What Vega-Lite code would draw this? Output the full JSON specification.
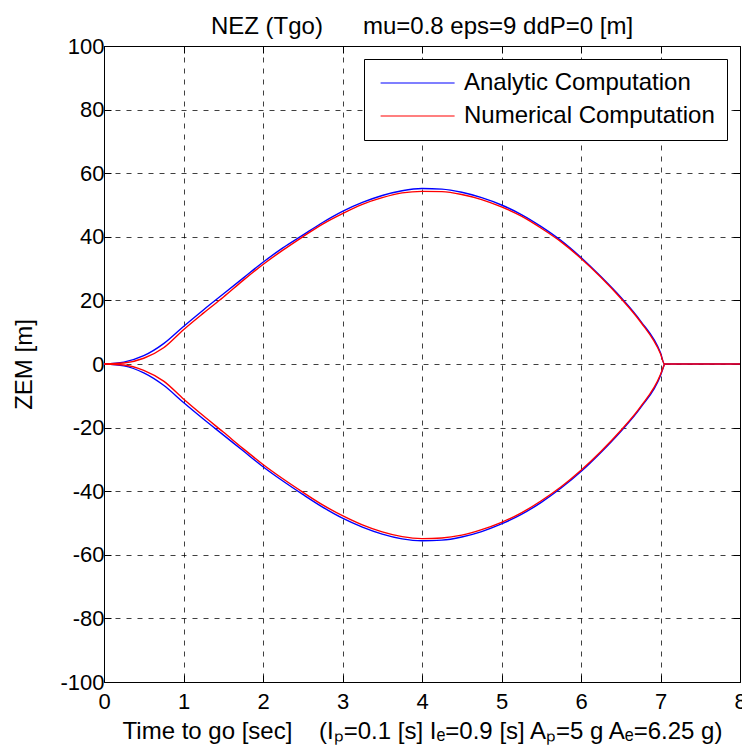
{
  "$schema": "https://vega.github.io/schema/vega-lite/v6.json",
  "width": 636,
  "height": 636,
  "autosize": {"type": "none"},
  "padding": {"left": 104, "top": 46, "right": 2, "bottom": 70},
  "background": "white",
  "config": {
    "font": "Liberation Sans",
    "view": {"stroke": "black", "strokeWidth": 1},
    "axis": {
      "grid": true,
      "gridColor": "#000000",
      "gridDash": [5, 6],
      "gridOpacity": 0.75,
      "gridWidth": 1,
      "domain": false,
      "tickSize": -7,
      "tickColor": "black",
      "labelColor": "black",
      "labelFontSize": 22,
      "titleColor": "black",
      "titleFontSize": 24,
      "titleFontWeight": "normal",
      "labelFlush": false,
      "labelOverlap": false,
      "labelExpr": "'' + datum.value"
    }
  },
  "title": {
    "text": "NEZ (Tgo)\u00a0\u00a0\u00a0\u00a0\u00a0\u00a0mu=0.8 eps=9 ddP=0 [m]",
    "fontSize": 24,
    "fontWeight": "normal",
    "anchor": "middle",
    "color": "black",
    "offset": -4
  },
  "datasets": {
    "curves": [
      {"s": "Analytic Computation", "b": "u", "t": 0, "v": 0},
      {"s": "Analytic Computation", "b": "u", "t": 0.25, "v": 0.6},
      {"s": "Analytic Computation", "b": "u", "t": 0.5, "v": 2.6},
      {"s": "Analytic Computation", "b": "u", "t": 0.75, "v": 6.4},
      {"s": "Analytic Computation", "b": "u", "t": 1, "v": 11.8},
      {"s": "Analytic Computation", "b": "u", "t": 1.25, "v": 17},
      {"s": "Analytic Computation", "b": "u", "t": 1.5, "v": 22},
      {"s": "Analytic Computation", "b": "u", "t": 1.75, "v": 27},
      {"s": "Analytic Computation", "b": "u", "t": 2, "v": 32},
      {"s": "Analytic Computation", "b": "u", "t": 2.25, "v": 36.5},
      {"s": "Analytic Computation", "b": "u", "t": 2.5, "v": 40.5},
      {"s": "Analytic Computation", "b": "u", "t": 2.75, "v": 44.5},
      {"s": "Analytic Computation", "b": "u", "t": 3, "v": 48},
      {"s": "Analytic Computation", "b": "u", "t": 3.25, "v": 50.8},
      {"s": "Analytic Computation", "b": "u", "t": 3.5, "v": 53},
      {"s": "Analytic Computation", "b": "u", "t": 3.75, "v": 54.5},
      {"s": "Analytic Computation", "b": "u", "t": 4, "v": 55.2},
      {"s": "Analytic Computation", "b": "u", "t": 4.25, "v": 55},
      {"s": "Analytic Computation", "b": "u", "t": 4.5, "v": 54},
      {"s": "Analytic Computation", "b": "u", "t": 4.75, "v": 52.3},
      {"s": "Analytic Computation", "b": "u", "t": 5, "v": 50},
      {"s": "Analytic Computation", "b": "u", "t": 5.25, "v": 47},
      {"s": "Analytic Computation", "b": "u", "t": 5.5, "v": 43.2},
      {"s": "Analytic Computation", "b": "u", "t": 5.75, "v": 38.8},
      {"s": "Analytic Computation", "b": "u", "t": 6, "v": 33.5},
      {"s": "Analytic Computation", "b": "u", "t": 6.25, "v": 27.5},
      {"s": "Analytic Computation", "b": "u", "t": 6.5, "v": 21},
      {"s": "Analytic Computation", "b": "u", "t": 6.75, "v": 13.5},
      {"s": "Analytic Computation", "b": "u", "t": 7, "v": 3.5},
      {"s": "Analytic Computation", "b": "u", "t": 7.05, "v": 0},
      {"s": "Analytic Computation", "b": "u", "t": 8, "v": 0},
      {"s": "Analytic Computation", "b": "l", "t": 0, "v": 0},
      {"s": "Analytic Computation", "b": "l", "t": 0.25, "v": -0.6},
      {"s": "Analytic Computation", "b": "l", "t": 0.5, "v": -2.8},
      {"s": "Analytic Computation", "b": "l", "t": 0.75, "v": -6.7},
      {"s": "Analytic Computation", "b": "l", "t": 1, "v": -12.1},
      {"s": "Analytic Computation", "b": "l", "t": 1.25, "v": -17.3},
      {"s": "Analytic Computation", "b": "l", "t": 1.5, "v": -22.3},
      {"s": "Analytic Computation", "b": "l", "t": 1.75, "v": -27.3},
      {"s": "Analytic Computation", "b": "l", "t": 2, "v": -32.3},
      {"s": "Analytic Computation", "b": "l", "t": 2.25, "v": -36.8},
      {"s": "Analytic Computation", "b": "l", "t": 2.5, "v": -41},
      {"s": "Analytic Computation", "b": "l", "t": 2.75, "v": -45},
      {"s": "Analytic Computation", "b": "l", "t": 3, "v": -48.5},
      {"s": "Analytic Computation", "b": "l", "t": 3.25, "v": -51.3},
      {"s": "Analytic Computation", "b": "l", "t": 3.5, "v": -53.5},
      {"s": "Analytic Computation", "b": "l", "t": 3.75, "v": -55},
      {"s": "Analytic Computation", "b": "l", "t": 4, "v": -55.6},
      {"s": "Analytic Computation", "b": "l", "t": 4.25, "v": -55.4},
      {"s": "Analytic Computation", "b": "l", "t": 4.5, "v": -54.4},
      {"s": "Analytic Computation", "b": "l", "t": 4.75, "v": -52.7},
      {"s": "Analytic Computation", "b": "l", "t": 5, "v": -50.3},
      {"s": "Analytic Computation", "b": "l", "t": 5.25, "v": -47.3},
      {"s": "Analytic Computation", "b": "l", "t": 5.5, "v": -43.5},
      {"s": "Analytic Computation", "b": "l", "t": 5.75, "v": -39},
      {"s": "Analytic Computation", "b": "l", "t": 6, "v": -33.8},
      {"s": "Analytic Computation", "b": "l", "t": 6.25, "v": -27.8},
      {"s": "Analytic Computation", "b": "l", "t": 6.5, "v": -21.2},
      {"s": "Analytic Computation", "b": "l", "t": 6.75, "v": -13.7},
      {"s": "Analytic Computation", "b": "l", "t": 7, "v": -3.6},
      {"s": "Analytic Computation", "b": "l", "t": 7.05, "v": 0},
      {"s": "Numerical Computation", "b": "u", "t": 0, "v": 0},
      {"s": "Numerical Computation", "b": "u", "t": 0.25, "v": 0.3},
      {"s": "Numerical Computation", "b": "u", "t": 0.5, "v": 1.8},
      {"s": "Numerical Computation", "b": "u", "t": 0.75, "v": 5.1},
      {"s": "Numerical Computation", "b": "u", "t": 1, "v": 10.8},
      {"s": "Numerical Computation", "b": "u", "t": 1.25, "v": 16},
      {"s": "Numerical Computation", "b": "u", "t": 1.5, "v": 21},
      {"s": "Numerical Computation", "b": "u", "t": 1.75, "v": 26.3},
      {"s": "Numerical Computation", "b": "u", "t": 2, "v": 31.3},
      {"s": "Numerical Computation", "b": "u", "t": 2.25, "v": 35.8},
      {"s": "Numerical Computation", "b": "u", "t": 2.5, "v": 40},
      {"s": "Numerical Computation", "b": "u", "t": 2.75, "v": 44},
      {"s": "Numerical Computation", "b": "u", "t": 3, "v": 47.3},
      {"s": "Numerical Computation", "b": "u", "t": 3.25, "v": 50.2},
      {"s": "Numerical Computation", "b": "u", "t": 3.5, "v": 52.3},
      {"s": "Numerical Computation", "b": "u", "t": 3.75, "v": 53.8},
      {"s": "Numerical Computation", "b": "u", "t": 4, "v": 54.3},
      {"s": "Numerical Computation", "b": "u", "t": 4.25, "v": 54.2},
      {"s": "Numerical Computation", "b": "u", "t": 4.5, "v": 53.3},
      {"s": "Numerical Computation", "b": "u", "t": 4.75, "v": 51.7},
      {"s": "Numerical Computation", "b": "u", "t": 5, "v": 49.4},
      {"s": "Numerical Computation", "b": "u", "t": 5.25, "v": 46.5},
      {"s": "Numerical Computation", "b": "u", "t": 5.5, "v": 42.7},
      {"s": "Numerical Computation", "b": "u", "t": 5.75, "v": 38.4},
      {"s": "Numerical Computation", "b": "u", "t": 6, "v": 33.2},
      {"s": "Numerical Computation", "b": "u", "t": 6.25, "v": 27.3},
      {"s": "Numerical Computation", "b": "u", "t": 6.5, "v": 20.7},
      {"s": "Numerical Computation", "b": "u", "t": 6.75, "v": 13.2},
      {"s": "Numerical Computation", "b": "u", "t": 7, "v": 3.2},
      {"s": "Numerical Computation", "b": "u", "t": 7.05, "v": 0},
      {"s": "Numerical Computation", "b": "u", "t": 8, "v": 0},
      {"s": "Numerical Computation", "b": "l", "t": 0, "v": 0},
      {"s": "Numerical Computation", "b": "l", "t": 0.25, "v": -0.3},
      {"s": "Numerical Computation", "b": "l", "t": 0.5, "v": -2},
      {"s": "Numerical Computation", "b": "l", "t": 0.75, "v": -5.4},
      {"s": "Numerical Computation", "b": "l", "t": 1, "v": -11},
      {"s": "Numerical Computation", "b": "l", "t": 1.25, "v": -16.3},
      {"s": "Numerical Computation", "b": "l", "t": 1.5, "v": -21.4},
      {"s": "Numerical Computation", "b": "l", "t": 1.75, "v": -26.6},
      {"s": "Numerical Computation", "b": "l", "t": 2, "v": -31.6},
      {"s": "Numerical Computation", "b": "l", "t": 2.25, "v": -36.1},
      {"s": "Numerical Computation", "b": "l", "t": 2.5, "v": -40.3},
      {"s": "Numerical Computation", "b": "l", "t": 2.75, "v": -44.3},
      {"s": "Numerical Computation", "b": "l", "t": 3, "v": -47.7},
      {"s": "Numerical Computation", "b": "l", "t": 3.25, "v": -50.6},
      {"s": "Numerical Computation", "b": "l", "t": 3.5, "v": -52.8},
      {"s": "Numerical Computation", "b": "l", "t": 3.75, "v": -54.3},
      {"s": "Numerical Computation", "b": "l", "t": 4, "v": -54.9},
      {"s": "Numerical Computation", "b": "l", "t": 4.25, "v": -54.7},
      {"s": "Numerical Computation", "b": "l", "t": 4.5, "v": -53.8},
      {"s": "Numerical Computation", "b": "l", "t": 4.75, "v": -52.1},
      {"s": "Numerical Computation", "b": "l", "t": 5, "v": -49.8},
      {"s": "Numerical Computation", "b": "l", "t": 5.25, "v": -46.8},
      {"s": "Numerical Computation", "b": "l", "t": 5.5, "v": -43},
      {"s": "Numerical Computation", "b": "l", "t": 5.75, "v": -38.6},
      {"s": "Numerical Computation", "b": "l", "t": 6, "v": -33.4},
      {"s": "Numerical Computation", "b": "l", "t": 6.25, "v": -27.5},
      {"s": "Numerical Computation", "b": "l", "t": 6.5, "v": -20.9},
      {"s": "Numerical Computation", "b": "l", "t": 6.75, "v": -13.4},
      {"s": "Numerical Computation", "b": "l", "t": 7, "v": -3.3},
      {"s": "Numerical Computation", "b": "l", "t": 7.05, "v": 0}
    ]
  },
  "data": {"name": "curves"},
  "layer": [
    {
      "mark": {"type": "line", "strokeWidth": 1.4, "clip": true, "interpolate": "monotone"},
      "encoding": {
        "x": {
          "field": "t",
          "type": "quantitative",
          "scale": {"domain": [0, 8], "nice": false, "zero": false},
          "axis": {
            "orient": "bottom",
            "values": [0, 1, 2, 3, 4, 5, 6, 7, 8],
            "labelPadding": 16,
            "titlePadding": 7,
            "title": "Time to go [sec]\u00a0\u00a0\u00a0\u00a0(I\u209a=0.1 [s] I\u2091=0.9 [s] A\u209a=5 g A\u2091=6.25 g)"
          }
        },
        "y": {
          "field": "v",
          "type": "quantitative",
          "scale": {"domain": [-100, 100], "nice": false, "zero": false},
          "axis": {
            "orient": "left",
            "values": [-100, -80, -60, -40, -20, 0, 20, 40, 60, 80, 100],
            "labelPadding": 7,
            "titlePadding": 23,
            "title": "ZEM [m]"
          }
        },
        "color": {
          "field": "s",
          "type": "nominal",
          "scale": {"domain": ["Analytic Computation", "Numerical Computation"], "range": ["#0000ff", "#ff0000"]},
          "legend": {
            "title": null,
            "orient": "top-right",
            "offset": 13,
            "strokeColor": "black",
            "fillColor": "white",
            "padding": 12,
            "cornerRadius": 0,
            "labelFontSize": 24,
            "labelColor": "black",
            "labelOffset": 64,
            "labelExpr": "datum.label + '\u00a0\u00a0\u00a0'",
            "rowPadding": 9,
            "symbolType": "M-1,0H9",
            "symbolSize": 219,
            "symbolStrokeWidth": 1.2,
            "labelLimit": 400
          }
        },
        "detail": {"field": "b", "type": "nominal"}
      }
    },
    {
      "mark": {"type": "point", "opacity": 0},
      "encoding": {
        "x": {
          "field": "t",
          "type": "quantitative",
          "axis": {"orient": "top", "values": [0, 1, 2, 3, 4, 5, 6, 7, 8], "labels": false, "grid": false, "title": null}
        },
        "y": {
          "field": "v",
          "type": "quantitative",
          "axis": {"orient": "right", "values": [-100, -80, -60, -40, -20, 0, 20, 40, 60, 80, 100], "labels": false, "grid": false, "title": null}
        }
      }
    }
  ],
  "resolve": {"axis": {"x": "independent", "y": "independent"}}
}
